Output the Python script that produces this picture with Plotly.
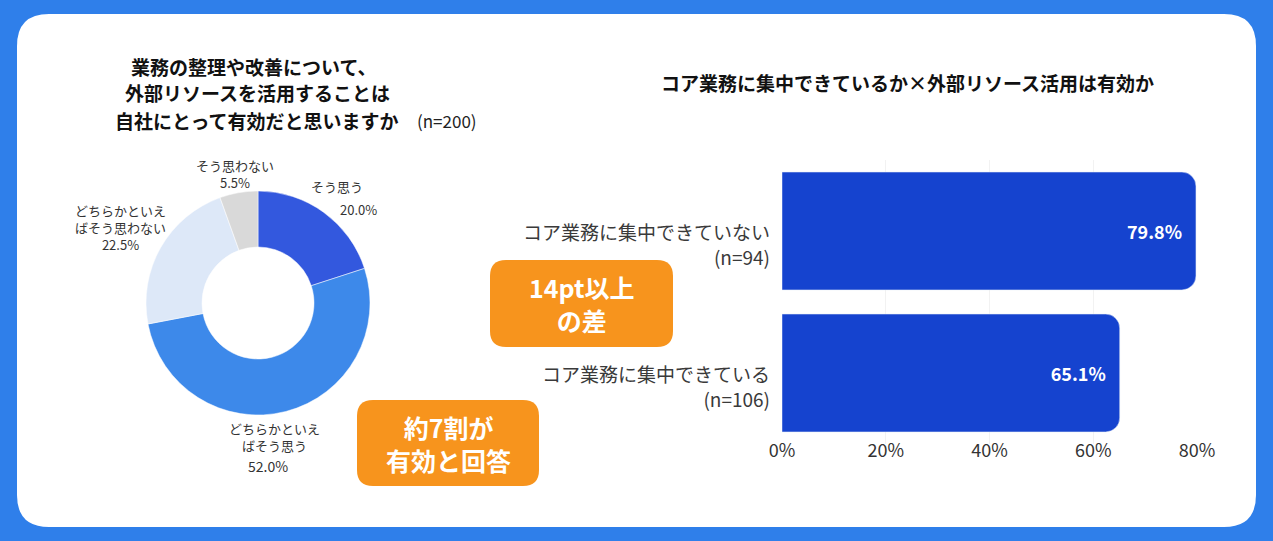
import plotly.graph_objects as go

W, H = 1273, 541

# donut: 業務の整理や改善について外部リソースを活用することは有効か (n=200)
pie_labels = ['そう思う', 'どちらかといえばそう思う', 'どちらかといえばそう思わない', 'そう思わない']
pie_values = [20.0, 52.0, 22.5, 5.5]
pie_colors = ['#3358de', '#3d89ea', '#dde8f8', '#d9d9d9']

# bar: コア業務に集中できているか × 有効と回答した割合
bar_labels = ['コア業務に集中できていない<br>(n=94)', 'コア業務に集中できている<br>(n=106)']
bar_values = [79.8, 65.1]
x_ticks = [0, 20, 40, 60, 80]

FONT = 'Noto Sans CJK JP'


def px(x):
    return x / W


def py(y):
    return 1 - y / H


def round_rect(x0, y0, x1, y1, r):
    # rounded rectangle as svg path in paper coords (pixel input)
    pts = [
        f'M {px(x0 + r)} {py(y0)}',
        f'L {px(x1 - r)} {py(y0)}',
        f'Q {px(x1)} {py(y0)} {px(x1)} {py(y0 + r)}',
        f'L {px(x1)} {py(y1 - r)}',
        f'Q {px(x1)} {py(y1)} {px(x1 - r)} {py(y1)}',
        f'L {px(x0 + r)} {py(y1)}',
        f'Q {px(x0)} {py(y1)} {px(x0)} {py(y1 - r)}',
        f'L {px(x0)} {py(y0 + r)}',
        f'Q {px(x0)} {py(y0)} {px(x0 + r)} {py(y0)}',
        'Z',
    ]
    return ' '.join(pts)


fig = go.Figure()

# donut chart
fig.add_trace(go.Pie(
    labels=pie_labels,
    values=pie_values,
    hole=0.5,
    sort=False,
    direction='clockwise',
    rotation=0,
    marker=dict(colors=pie_colors, line=dict(color='white', width=0.5)),
    textinfo='none',
    hoverinfo='label+percent',
    showlegend=False,
    domain=dict(x=[px(146), px(370)], y=[py(415), py(191)]),
))

# bar chart
fig.add_trace(go.Bar(
    x=bar_values,
    y=bar_labels,
    orientation='h',
    marker=dict(color='#1543cf', cornerradius=14),
    text=[f'{v:.1f}%' for v in bar_values],
    textposition='inside',
    insidetextanchor='end',
    textfont=dict(color='white', size=18, family=FONT, weight='bold'),
    showlegend=False,
    width=0.83,
))

fig.update_layout(
    width=W,
    height=H,
    margin=dict(l=0, r=0, t=0, b=0, pad=0),
    paper_bgcolor='#2f7fea',
    plot_bgcolor='rgba(0,0,0,0)',
    font=dict(family=FONT, color='#333333'),
    xaxis=dict(
        domain=[px(782), px(1197)],
        range=[0, 80],
        tickmode='array',
        tickvals=x_ticks,
        ticktext=[f'{v}%' for v in x_ticks],
        showgrid=True,
        gridcolor='#f2f2f2',
        zeroline=False,
        showline=False,
        automargin=False,
        tickfont=dict(size=18, color='#333333'),
        ticklabelstandoff=-6,
        fixedrange=True,
    ),
    yaxis=dict(
        domain=[py(444), py(160)],
        autorange='reversed',
        showgrid=False,
        zeroline=False,
        showline=False,
        showticklabels=False,
        automargin=False,
        fixedrange=True,
    ),
)

# category labels, first line level with bar centre
for lab in bar_labels:
    fig.add_annotation(
        x=px(772), y=lab, xref='paper', yref='y', text=lab,
        showarrow=False, xanchor='right', yanchor='middle', align='right',
        yshift=-13, font=dict(size=19, color='#3a3a3a', family=FONT),
    )

# white card
fig.add_shape(type='path', xref='paper', yref='paper', layer='below',
              path=round_rect(17, 14, 1256, 527, 32),
              fillcolor='white', line=dict(width=0))

# orange callout boxes
for x0, y0, x1, y1 in [(490, 260, 673, 347), (357, 400, 539, 486)]:
    fig.add_shape(type='path', xref='paper', yref='paper',
                  path=round_rect(x0, y0, x1, y1, 16),
                  fillcolor='#f7941d', line=dict(width=0))


def note(x, y, text, size=13, color='#333333', bold=False, anchor='center'):
    fig.add_annotation(
        x=px(x), y=py(y), xref='paper', yref='paper', text=text,
        showarrow=False, xanchor=anchor, yanchor='middle', align='center',
        font=dict(size=size, color=color, family=FONT,
                  weight='bold' if bold else 'normal'),
    )


# titles
note(253, 66, '業務の整理や改善について、', size=19, color='#111111', bold=True)
note(257, 93, '外部リソースを活用することは', size=19, color='#111111', bold=True)
note(256, 120, '自社にとって有効だと思いますか', size=19, color='#111111', bold=True)
note(447, 120, '(n=200)', size=17, color='#222222')
note(907, 83, 'コア業務に集中できているか×外部リソース活用は有効か', size=19,
     color='#111111', bold=True)

# donut labels
note(235, 174, f'そう思わない<br>{pie_values[3]:.1f}%')
note(337, 187, 'そう思う')
note(358, 209, f'{pie_values[0]:.1f}%')
note(120, 227, f'どちらかといえ<br>ばそう思わない<br>{pie_values[2]:.1f}%')
note(274, 437, 'どちらかといえ<br>ばそう思う')
note(268, 466, f'{pie_values[1]:.1f}%', size=14)

# callout texts
note(581, 303, '14pt以上<br>の差', size=25, color='white', bold=True)
note(448, 443, '約7割が<br>有効と回答', size=25, color='white', bold=True)

fig.write_html('out.html', config={'displayModeBar': False},
               post_script="document.body.style.margin='0';")
